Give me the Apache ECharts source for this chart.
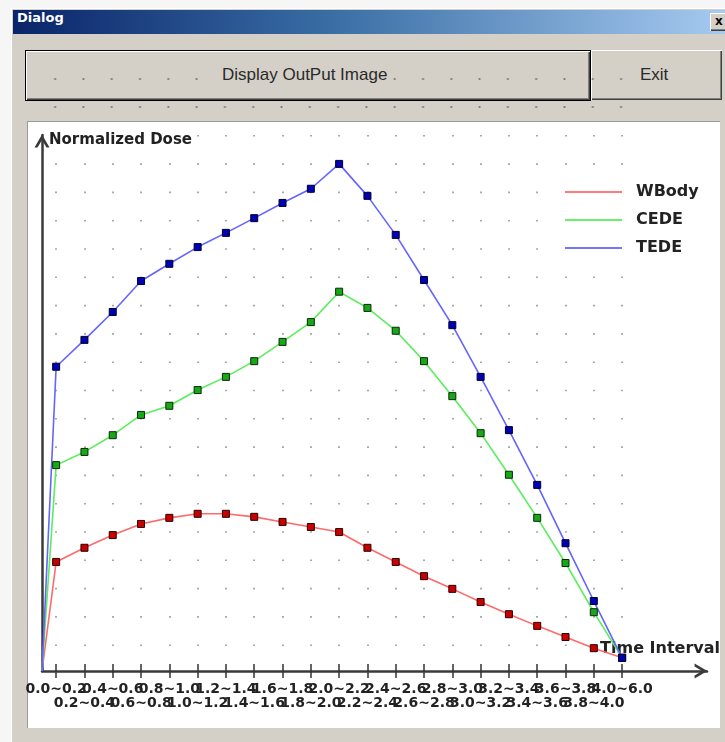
<!DOCTYPE html>
<html>
<head>
<meta charset="utf-8">
<script src="https://cdn.jsdelivr.net/npm/echarts/dist/echarts.min.js"></script>
<style>
  html, body { margin:0; padding:0; width:725px; height:742px; overflow:hidden; background:#f6f6f6; }
  .abs { position:absolute; box-sizing:border-box; }
  #dlg { left:11px; top:8px; width:714px; height:734px; background:#d4d0c8; border-left:1px solid #fff; border-top:1px solid #fff; }
  #titlebar { left:13px; top:10px; width:712px; height:24px; background:linear-gradient(to right,#0a246a 0%,#3a6ea5 45%,#a6caf0 100%); }
  #titletext { left:17px; top:10px; height:24px; line-height:24px; color:#fff; font:bold 13px "DejaVu Sans"; }
  #closebtn { left:710px; top:13px; width:20px; height:18px; background:#d4d0c8;
     box-shadow: inset 1px 1px 0 #fff, inset -1px -1px 0 #404040, inset -2px -2px 0 #808080;
     font:bold 12px "DejaVu Sans"; color:#000; line-height:17px; padding-left:5px; }
  #btn1 { left:25px; top:50px; width:566px; height:51px; background:#d4d0c8; border:1px solid #000;
     box-shadow: inset 1px 1px 0 #fff, inset -1px -1px 0 #404040, inset -2px -2px 0 #808080; }
  #btn2 { left:591px; top:50px; width:131px; height:50px; background:#d4d0c8;
     box-shadow: inset 1px 1px 0 #fff, inset -1px -1px 0 #404040, inset -2px -2px 0 #808080; }
  #dots { left:41.35px; top:65px; width:594.3px; height:56px;
     background-image: radial-gradient(circle at center, #7a7a7a 0, #7a7a7a 0.8px, rgba(0,0,0,0) 1.3px);
     background-size: 28.3px 28px; }
  .btntext { top:65px; height:24px; line-height:24px; font:17px "Liberation Sans"; color:#2a2a2a; background:#d4d0c8; padding:0 3px; white-space:nowrap; }
  #t1 { left:219px; }
  #t2 { left:637px; }
  #panel { left:27px; top:121px; width:693px; height:607px; background:#fff; border-top:1px solid #9a9a9a; border-left:1px solid #9a9a9a; }
  #chart { left:0; top:0; width:725px; height:742px; }
</style>
</head>
<body>
<div class="abs" id="dlg"></div>
<div class="abs" id="titlebar"></div>
<div class="abs" id="titletext">Dialog</div>
<div class="abs" id="closebtn">x</div>
<div class="abs" id="btn1"></div>
<div class="abs" id="btn2"></div>
<div class="abs" id="dots"></div>
<div class="abs btntext" id="t1">Display OutPut Image</div>
<div class="abs btntext" id="t2">Exit</div>
<div class="abs" id="panel"></div>
<div class="abs" id="chart"></div>
<script>
// ---- data ----
const categories = ['0.0~0.2','0.2~0.4','0.4~0.6','0.6~0.8','0.8~1.0','1.0~1.2','1.2~1.4',
  '1.4~1.6','1.6~1.8','1.8~2.0','2.0~2.2','2.2~2.4','2.4~2.6','2.6~2.8','2.8~3.0',
  '3.0~3.2','3.2~3.4','3.4~3.6','3.6~3.8','3.8~4.0','4.0~6.0'];
const seriesNames = ['WBody', 'CEDE', 'TEDE'];
const wbody = [0.215,0.243,0.268,0.290,0.302,0.310,0.310,0.304,0.294,0.284,0.274,
  0.243,0.215,0.187,0.162,0.136,0.112,0.089,0.067,0.045,0.026];
const cede = [0.406,0.432,0.465,0.505,0.523,0.554,0.580,0.611,0.649,0.688,0.748,
  0.716,0.671,0.611,0.542,0.469,0.387,0.302,0.213,0.116,0.026];
const tede = [0.600,0.653,0.708,0.769,0.803,0.836,0.864,0.893,0.923,0.951,1.000,
  0.937,0.860,0.771,0.682,0.580,0.475,0.367,0.252,0.138,0.026];
const origin = 0; // dose at time 0

// Time axis made of half-band slots: slot 0 is the origin, slot 2i+1 the centre of interval i,
// trailing empty slots extend the axis line to its arrow.
const SLOTS = 48;
const slots = [];
for (let k = 0; k < SLOTS; k++) {
  const i = (k - 1) / 2;
  slots.push(k % 2 === 1 && i < categories.length ? categories[i] : '');
}
function build(vals) {
  return [{ value: [0, origin], symbol: 'none' }].concat(vals.map((v, i) => [2 * i + 1, v]));
}
const isLabelSlot = (idx) => slots[idx] !== '';

const chevron = 'path://M0,12 L7,0 L14,12 L11.2,12 L7,5 L2.8,12 Z';
const FONT = 'DejaVu Sans';

const chart = echarts.init(document.getElementById('chart'), null, { renderer: 'canvas' });
chart.setOption({
  animation: false,
  grid: { left: 42, top: 135, right: 18, bottom: 71 },
  legend: {
    orient: 'vertical', left: 559, top: 179, padding: [5, 8, 5, 6],
    backgroundColor: '#fff', itemWidth: 57, itemHeight: 2, itemGap: 12, icon: 'rect',
    selectedMode: false,
    textStyle: { fontFamily: FONT, fontWeight: 'bold', fontSize: 16, color: '#222', padding: [0, 0, 0, 9] },
    data: [
      { name: 'WBody', itemStyle: { color: '#ff7a7a', borderWidth: 0 } },
      { name: 'CEDE', itemStyle: { color: '#6cf06c', borderWidth: 0 } },
      { name: 'TEDE', itemStyle: { color: '#7474ff', borderWidth: 0 } }
    ]
  },
  xAxis: [{
    type: 'category', data: slots, boundaryGap: false,
    name: 'Time Interval', nameLocation: 'end', nameGap: 13,
    nameTextStyle: { fontFamily: FONT, fontWeight: 'bold', fontSize: 16, color: '#222',
      align: 'right', verticalAlign: 'bottom', padding: [0, 0, 14, 0] },
    axisLine: { show: true, onZero: false, lineStyle: { color: '#3a3a3a', width: 2.5 },
      symbol: ['none', chevron], symbolSize: [15, 13], symbolOffset: [0, -6] },
    axisTick: { show: true, interval: isLabelSlot, length: 7, lineStyle: { color: '#333', width: 1.5 } },
    axisLabel: { show: true, interval: 0, margin: 11,
      fontFamily: FONT, fontWeight: 'bold', fontSize: 14, lineHeight: 14, color: '#222',
      formatter: function (val, idx) {
        if (val === '') return '';
        const i = (idx - 1) / 2;
        return i % 2 === 0 ? val : '\n' + val;
      } },
    splitLine: { show: true, interval: isLabelSlot, lineStyle: { color: '#8c8c8c', width: 1.5, type: [1.6, 26.7] } }
  }, {
    type: 'category', data: slots, boundaryGap: false, position: 'top',
    axisLine: { show: false, onZero: true },
    axisTick: { show: true, interval: isLabelSlot, length: 7, lineStyle: { color: '#333', width: 1.5 } },
    axisLabel: { show: false }, splitLine: { show: false }
  }],
  yAxis: {
    type: 'value', min: 0, max: 1.057,
    name: 'Normalized Dose', nameLocation: 'end', nameGap: -5,
    nameTextStyle: { fontFamily: FONT, fontWeight: 'bold', fontSize: 15, color: '#222',
      align: 'left', verticalAlign: 'middle', padding: [0, 2, 0, 7], backgroundColor: '#fff' },
    axisLine: { show: true, lineStyle: { color: '#3a3a3a', width: 2.5 },
      symbol: ['none', chevron], symbolSize: [15, 13], symbolOffset: [0, -6] },
    axisTick: { show: false }, axisLabel: { show: false }, splitLine: { show: false }
  },
  series: [
    { name: seriesNames[0], type: 'line', data: build(wbody), symbol: 'rect', symbolSize: 7, showAllSymbol: true,
      lineStyle: { color: '#ff6a6a', width: 1.6 }, itemStyle: { color: '#c80000', borderColor: '#2a0000', borderWidth: 1 } },
    { name: seriesNames[1], type: 'line', data: build(cede), symbol: 'rect', symbolSize: 7, showAllSymbol: true,
      lineStyle: { color: '#5ced5c', width: 1.6 }, itemStyle: { color: '#16a816', borderColor: '#0a2a0a', borderWidth: 1 } },
    { name: seriesNames[2], type: 'line', data: build(tede), symbol: 'rect', symbolSize: 7, showAllSymbol: true,
      lineStyle: { color: '#6464ff', width: 1.6 }, itemStyle: { color: '#0000b4', borderColor: '#00002a', borderWidth: 1 } }
  ]
});
</script>
</body>
</html>
